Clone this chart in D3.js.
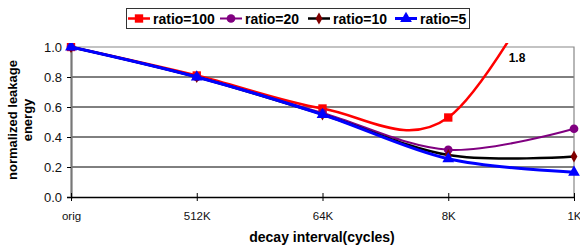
<!DOCTYPE html>
<html lang="en">
<head>
<meta charset="UTF-8" />
<title>Normalized leakage energy vs decay interval</title>
<script src="https://d3js.org/d3.v7.min.js"></script>
<style>
    body { margin: 0; background: #fff; }
    svg { display: block; font-family: "Liberation Sans", Arial, sans-serif; }
    .grid line { stroke: #000; stroke-width: 1; }
</style>
</head>
<body>
<div id="chart"></div>
<script>
    // data
    const categories = ["orig", "512K", "64K", "8K", "1K"];
    const ratio100 = [1.0, 0.81, 0.59, 0.53, 1.8];
    const ratio20 = [1.0, 0.80, 0.56, 0.315, 0.455];
    const ratio10 = [1.0, 0.80, 0.55, 0.28, 0.27];
    const ratio5 = [1.0, 0.80, 0.55, 0.255, 0.165];
    const yTicks = [0, 0.2, 0.4, 0.6, 0.8, 1.0];

    const series = [
        { name: "ratio=100", values: ratio100, color: "#ff0000", marker: "square", mcolor: "#ff0000", width: 2.5 },
        { name: "ratio=20", values: ratio20, color: "#800080", marker: "circle", mcolor: "#800080", width: 2 },
        { name: "ratio=10", values: ratio10, color: "#000000", marker: "diamond", mcolor: "#800000", width: 2.5 },
        { name: "ratio=5", values: ratio5, color: "#0000ff", marker: "triangle", mcolor: "#0000ff", width: 3 }
    ];

    const W = 580, H = 246;
    const plot = { left: 71, right: 574, top: 47, bottom: 197 };

    const svg = d3.select("#chart").append("svg")
        .attr("width", W).attr("height", H);

    const x = d3.scalePoint().domain(categories).range([plot.left, plot.right]);
    const y = d3.scaleLinear().domain([0, 1]).range([plot.bottom, plot.top]);

    // gridlines
    svg.append("g").attr("class", "grid")
        .selectAll("line").data(yTicks.filter(d => d > 0 && d < 1))
        .enter().append("line")
        .attr("x1", plot.left).attr("x2", plot.right)
        .attr("y1", d => y(d)).attr("y2", d => y(d));

    // plot border (top / right)
    svg.append("path")
        .attr("d", `M${plot.left},${plot.top}H${plot.right}V${plot.bottom}`)
        .attr("fill", "none").attr("stroke", "#888").attr("stroke-width", 1.2);

    // y axis
    const yAxis = svg.append("g")
        .attr("transform", `translate(${plot.left},0)`)
        .call(d3.axisLeft(y).tickValues(yTicks).tickFormat(d3.format(".1f")).tickSize(4).tickPadding(5));
    yAxis.select(".domain").attr("stroke", "#777").attr("stroke-width", 2.2);
    yAxis.selectAll(".tick line").attr("stroke", "#000");
    yAxis.selectAll("text").attr("font-size", 13).attr("fill", "#111")
        .attr("font-family", "Liberation Sans, Arial, sans-serif");

    // x axis
    const xAxis = svg.append("g")
        .attr("transform", `translate(0,${plot.bottom})`)
        .call(d3.axisBottom(x).tickSizeInner(4).tickSizeOuter(0).tickPadding(11));
    xAxis.select(".domain").attr("stroke", "#000").attr("stroke-width", 1.3);
    xAxis.selectAll(".tick line").attr("y1", -4).attr("y2", 4).attr("stroke", "#000");
    xAxis.selectAll("text").attr("font-size", 11.5).attr("fill", "#111")
        .attr("font-family", "Liberation Sans, Arial, sans-serif");

    // clip for lines
    svg.append("clipPath").attr("id", "clip")
        .append("rect").attr("x", 0).attr("y", 43).attr("width", W).attr("height", H - 43);

    const line = d3.line()
        .x((d, i) => x(categories[i]))
        .y(d => y(d))
        .curve(d3.curveCardinal.tension(0));

    const markerPath = {
        square: d3.symbol().type(d3.symbolSquare).size(70),
        circle: d3.symbol().type(d3.symbolCircle).size(60),
        diamond: d3.symbol().type(d3.symbolDiamond).size(40),
        triangle: d3.symbol().type(d3.symbolTriangle).size(60)
    };

    series.forEach(s => {
        svg.append("path")
            .attr("clip-path", "url(#clip)")
            .attr("d", line(s.values))
            .attr("fill", "none")
            .attr("stroke", s.color)
            .attr("stroke-width", s.width);
        svg.append("g").attr("clip-path", "url(#clip)")
            .selectAll("path").data(s.values)
            .enter().append("path")
            .attr("transform", (d, i) => `translate(${x(categories[i])},${y(d)})`)
            .attr("d", markerPath[s.marker]())
            .attr("fill", s.mcolor);
    });

    // off-scale label
    svg.append("text")
        .attr("x", 517).attr("y", 62)
        .attr("text-anchor", "middle")
        .attr("font-size", 12).attr("font-weight", "bold")
        .text(ratio100[4].toFixed(1));

    // axis titles
    const yTitle = svg.append("text")
        .attr("transform", "translate(21,120) rotate(-90)")
        .attr("text-anchor", "middle")
        .attr("font-size", 13).attr("font-weight", "bold");
    yTitle.append("tspan").attr("x", 0).attr("dy", -4).text("normalized leakage");
    yTitle.append("tspan").attr("x", 0).attr("dy", 15).text("energy");

    svg.append("text")
        .attr("x", 322).attr("y", 242)
        .attr("text-anchor", "middle")
        .attr("font-size", 14).attr("font-weight", "bold")
        .text("decay interval(cycles)");

    // legend
    const legend = svg.append("g");
    legend.append("rect")
        .attr("x", 126.5).attr("y", 8.5).attr("width", 343).attr("height", 20)
        .attr("fill", "#fff").attr("stroke", "#333").attr("stroke-width", 1);
    const legendX = [128, 220, 308, 395];
    series.forEach((s, i) => {
        const g = legend.append("g").attr("transform", `translate(${legendX[i]},18.5)`);
        g.append("line").attr("x1", 0).attr("x2", 22)
            .attr("stroke", s.color).attr("stroke-width", s.width);
        g.append("path").attr("transform", "translate(11,0)")
            .attr("d", markerPath[s.marker]()).attr("fill", s.mcolor);
        g.append("text").attr("x", 25).attr("y", 5)
            .attr("font-size", 14).attr("font-weight", "bold")
            .text(s.name);
    });
</script>
</body>
</html>
